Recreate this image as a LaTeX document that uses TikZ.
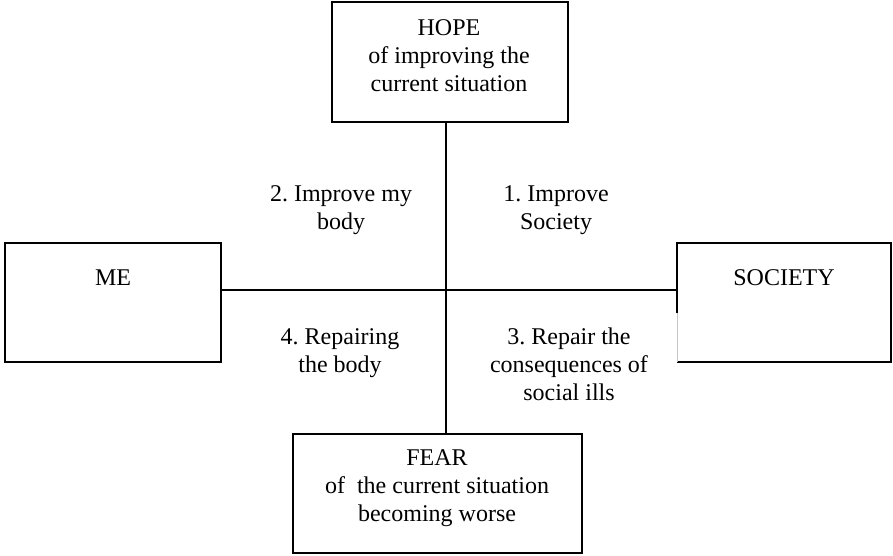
\documentclass[tikz,border=0pt]{standalone}
\usepackage{fontspec}
\setmainfont{Liberation Serif}
\frenchspacing
\usetikzlibrary{calc}
\begin{document}
\begin{tikzpicture}[x=1pt,y=-1pt,
  box/.style={draw, line width=2pt, inner sep=0pt, outer sep=0pt},
  conn/.style={line width=2pt},
  lbl/.style={inner sep=0pt, anchor=north, align=center,
    font=\fontsize{24}{28}\selectfont\frenchspacing},
]
\useasboundingbox (0,0) rectangle (893,555);

% the four boxes
\node[box, minimum width=236pt, minimum height=120pt] (hope) at (450,62) {};
\node[box, minimum width=216pt, minimum height=119pt] (me) at (113,302.5) {};
\node[box, minimum width=289pt, minimum height=119pt] (fear) at (437.5,493.5) {};
\node[inner sep=0pt, outer sep=0pt, minimum width=214pt, minimum height=119pt] (society) at (784,302.5) {};
\draw[line width=2pt] ($(society.north west)!0.59!(society.south west)$)
  -- (society.north west) -- (society.north east)
  -- (society.south east) -- (society.south west);
\draw[gray!45, line width=1pt] ($(society.north west)!0.59!(society.south west)$) -- (society.south west);

% the crossing axes
\coordinate (cross) at (446,290);
\draw[conn] (cross |- hope.south) -- (cross |- fear.north);
\draw[conn] (me.east |- cross) -- (society.west |- cross);

% texts in the boxes (the strut fixes the top of the first line)
\node[lbl] (hopetext) at (449,15.4) {\strut HOPE\\of improving the\\current situation};
\node[lbl] (metext) at (113,265.4) {\strut ME};
\node[lbl] (soctext) at (784,265.4) {\strut SOCIETY};
\node[lbl] (feartext) at (437,445.4) {\strut FEAR\\of\ \ the current situation\\becoming worse};

% quadrant labels
\node[lbl] (q2) at (341,181.4) {\strut 2. Improve my\\body};
\node[lbl] (q1) at (556,181.4) {\strut 1. Improve\\Society};
\node[lbl] (q4) at (340,324.4) {\strut 4. Repairing\\the body};
\node[lbl] (q3) at (569,324.4) {\strut 3. Repair the\\consequences of\\social ills};
\end{tikzpicture}
\end{document}
